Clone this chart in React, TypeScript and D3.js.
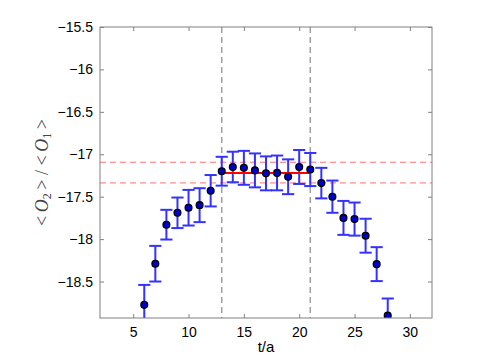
import React, { useRef, useEffect } from 'react';
import * as d3 from 'd3';

const times = [6, 7, 8, 9, 10, 11, 12, 13, 14, 15, 16, 17, 18, 19, 20, 21, 22, 23, 24, 25, 26, 27, 28];
const ratios = [-18.775, -18.29, -17.83, -17.69, -17.63, -17.6, -17.43, -17.2, -17.15, -17.16, -17.19, -17.225,
  -17.22, -17.265, -17.15, -17.18, -17.34, -17.5, -17.75, -17.764, -17.96, -18.295, -18.9];
const errors = [0.235, 0.21, 0.175, 0.18, 0.21, 0.2, 0.185, 0.17, 0.18, 0.2, 0.2, 0.2,
  0.205, 0.205, 0.2, 0.195, 0.18, 0.19, 0.2, 0.195, 0.2, 0.2, 0.2];

const xTicks = [5, 10, 15, 20, 25, 30];
const yTicks = [-15.5, -16, -16.5, -17, -17.5, -18, -18.5];

// fit window and result band
const fitRange = [13, 21];
const fitValue = -17.22;
const bandEdges = [-17.094, -17.338];

const App = () => {
  const ref = useRef<SVGSVGElement>(null);

  useEffect(() => {
    if (!ref.current) return;
    const width = 477;
    const height = 359;
    const margin = { top: 27, right: 45, bottom: 41, left: 100 };
    const w = width - margin.left - margin.right;
    const h = height - margin.top - margin.bottom;

    const root = d3.select(ref.current);
    root.selectAll('*').remove();
    root.attr('width', width).attr('height', height);

    root.append('defs').append('clipPath').attr('id', 'plot-clip')
      .append('rect').attr('width', w).attr('height', h);

    const svg = root.append('g').attr('transform', `translate(${margin.left},${margin.top})`);

    const x = d3.scaleLinear().domain([2, 32]).range([0, w]);
    const y = d3.scaleLinear().domain([-18.93, -15.5]).range([h, 0]);

    const fmt = (d: number) => String(d).replace('-', '\u2212');
    const axisColor = '#808080';
    const font = 'Liberation Sans, Arial, sans-serif';

    const plot = svg.append('g').attr('clip-path', 'url(#plot-clip)');

    // vertical dashed lines at fit window
    plot.selectAll('line.win')
      .data(fitRange)
      .enter()
      .append('line')
      .attr('x1', d => x(d)).attr('x2', d => x(d))
      .attr('y1', 0).attr('y2', h)
      .attr('stroke', '#a0a0a0')
      .attr('stroke-width', 1.5)
      .attr('stroke-dasharray', '6,4');

    // red dashed band
    plot.selectAll('line.band')
      .data(bandEdges)
      .enter()
      .append('line')
      .attr('x1', 0).attr('x2', w)
      .attr('y1', d => y(d)).attr('y2', d => y(d))
      .attr('stroke', '#ff7070')
      .attr('stroke-width', 1)
      .attr('stroke-dasharray', '6,4');

    const pts = times.map((t, i) => ({ t, v: ratios[i], e: errors[i] }));
    const cap = 0.55;

    // error bars
    const eb = plot.selectAll('g.eb').data(pts).enter().append('g')
      .attr('stroke', '#3333ff')
      .attr('stroke-width', 2);
    eb.append('line')
      .attr('x1', d => x(d.t)).attr('x2', d => x(d.t))
      .attr('y1', d => y(d.v - d.e)).attr('y2', d => y(d.v + d.e));
    eb.append('line')
      .attr('x1', d => x(d.t - cap)).attr('x2', d => x(d.t + cap))
      .attr('y1', d => y(d.v + d.e)).attr('y2', d => y(d.v + d.e));
    eb.append('line')
      .attr('x1', d => x(d.t - cap)).attr('x2', d => x(d.t + cap))
      .attr('y1', d => y(d.v - d.e)).attr('y2', d => y(d.v - d.e));

    // fit result
    plot.append('line')
      .attr('x1', x(fitRange[0])).attr('x2', x(fitRange[1]))
      .attr('y1', y(fitValue)).attr('y2', y(fitValue))
      .attr('stroke', '#ff0000')
      .attr('stroke-width', 2);

    // markers
    plot.selectAll('circle')
      .data(pts)
      .enter()
      .append('circle')
      .attr('cx', d => x(d.t))
      .attr('cy', d => y(d.v))
      .attr('r', 3.4)
      .attr('fill', '#0000cc')
      .attr('stroke', '#000')
      .attr('stroke-width', 1.3);

    // axes box with inward ticks
    const styleAxis = (g: any) => {
      g.select('.domain').remove();
      g.selectAll('.tick line').attr('stroke', axisColor);
      g.selectAll('.tick text').attr('fill', '#000').style('font-family', font).style('font-size', '14px');
    };

    svg.append('g').attr('transform', `translate(0,${h})`)
      .call(d3.axisBottom(x).tickValues(xTicks).tickSize(-4).tickPadding(9).tickFormat(d => fmt(+d)))
      .call(styleAxis);
    svg.append('g')
      .call(d3.axisTop(x).tickValues(xTicks).tickSize(-4).tickFormat(() => ''))
      .call(styleAxis);
    svg.append('g')
      .call(d3.axisLeft(y).tickValues(yTicks).tickSize(-4).tickPadding(7).tickFormat(d => fmt(+d)))
      .call(styleAxis);
    svg.append('g').attr('transform', `translate(${w},0)`)
      .call(d3.axisRight(y).tickValues(yTicks).tickSize(-4).tickFormat(() => ''))
      .call(styleAxis);

    svg.append('rect')
      .attr('width', w).attr('height', h)
      .attr('fill', 'none')
      .attr('stroke', axisColor)
      .attr('stroke-width', 1);

    // x label
    svg.append('text')
      .attr('x', w / 2)
      .attr('y', h + 34)
      .attr('text-anchor', 'middle')
      .style('font-family', font)
      .style('font-size', '15px')
      .attr('fill', '#000')
      .text('t/a');

    // y label
    const yl = svg.append('text')
      .attr('transform', `translate(${-52},${h / 2}) rotate(-90)`)
      .attr('text-anchor', 'middle')
      .style('font-family', 'Liberation Serif, Times New Roman, serif')
      .style('font-size', '18px')
      .attr('fill', '#444');
    yl.append('tspan').text('<\u2009');
    yl.append('tspan').style('font-style', 'italic').text('O');
    yl.append('tspan').attr('dy', 3).style('font-size', '12px').text('2');
    yl.append('tspan').attr('dy', -3).text('\u2009> / <\u2009');
    yl.append('tspan').style('font-style', 'italic').text('O');
    yl.append('tspan').attr('dy', 3).style('font-size', '12px').text('1');
    yl.append('tspan').attr('dy', -3).text('\u2009>');
  }, []);

  return <svg ref={ref} style={{ position: 'absolute', left: 0, top: 0 }} />;
};

export default App;
